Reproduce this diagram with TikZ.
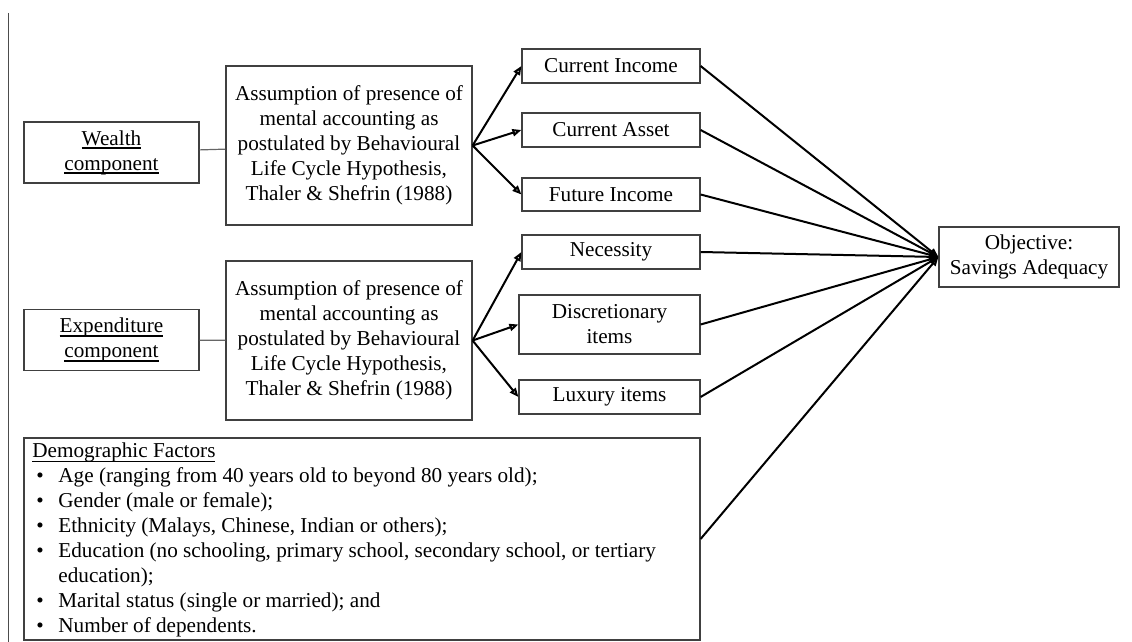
\documentclass[tikz,border=0pt]{standalone}
\usepackage{fontspec}
\setmainfont{Liberation Serif}
\usetikzlibrary{arrows.meta}
\newcommand\myul[2][0.5pt]{\leavevmode\setbox0=\hbox{#2}\rlap{\rule[-2pt]{\wd0}{#1}}\box0}
\begin{document}
\begin{tikzpicture}[x=0.5pt,y=-0.5pt,
  every node/.style={font=\fontsize{10.6}{12.5}\selectfont},
  box/.style={draw=black!75,line width=0.6pt,inner sep=0pt,align=center},
  conn/.style={line width=1pt,-{Triangle[open,length=4.5pt,width=3.6pt]}},
  link/.style={draw=black!60,line width=0.6pt}]
\useasboundingbox (0,0) rectangle (1132,642);
\draw[black!70,line width=0.5pt] (8,13) -- (8,642);
% left boxes
\node[box,minimum width=175*0.5pt,minimum height=61*0.5pt] (wealth) at (111.5,152.5) {\myul[0.9pt]{Wealth}\\\myul[0.9pt]{component}};
\node[box,minimum width=175*0.5pt,minimum height=61*0.5pt] (expend) at (111.5,340) {\myul[0.9pt]{Expenditure}\\\myul[0.9pt]{component}};
% assumption boxes
\node[box,minimum width=246*0.5pt,minimum height=159*0.5pt] (a1) at (349,145.5) {Assumption of presence of\\mental accounting as\\postulated by Behavioural\\Life Cycle Hypothesis,\\Thaler \& Shefrin (1988)};
\node[box,minimum width=246*0.5pt,minimum height=159*0.5pt] (a2) at (349,340.5) {Assumption of presence of\\mental accounting as\\postulated by Behavioural\\Life Cycle Hypothesis,\\Thaler \& Shefrin (1988)};
% middle boxes
\node[box,minimum width=178*0.5pt,minimum height=34*0.5pt] (ci) at (611,66) {Current Income};
\node[box,minimum width=178*0.5pt,minimum height=34*0.5pt] (ca) at (611,130) {Current Asset};
\node[box,minimum width=178*0.5pt,minimum height=33*0.5pt] (fi) at (611,194.5) {Future Income};
\node[box,minimum width=178*0.5pt,minimum height=34*0.5pt] (nec) at (611,252) {Necessity};
\node[box,minimum width=181*0.5pt,minimum height=59*0.5pt] (disc) at (609.5,324.5) {Discretionary\\items};
\node[box,minimum width=181*0.5pt,minimum height=34*0.5pt] (lux) at (609.5,397) {Luxury items};
% objective
\node[box,minimum width=180*0.5pt,minimum height=60*0.5pt] (obj) at (1029,257) {Objective:\\Savings Adequacy};
% demographic box
\node[box,minimum width=676*0.5pt,minimum height=202*0.5pt] (demo) at (362,539) {};
\node[anchor=north west,inner sep=0pt] (demotext) at (32,440) {%
\begin{tabular}{@{}l@{}l@{}}
\multicolumn{2}{@{}l}{\myul{Demographic Factors}}\\
\makebox[13pt][l]{\hspace*{2pt}\textbullet} & Age (ranging from 40 years old to beyond 80 years old);\\
\makebox[13pt][l]{\hspace*{2pt}\textbullet} & Gender (male or female);\\
\makebox[13pt][l]{\hspace*{2pt}\textbullet} & Ethnicity (Malays, Chinese, Indian or others);\\
\makebox[13pt][l]{\hspace*{2pt}\textbullet} & Education (no schooling, primary school, secondary school, or tertiary\\
 & education);\\
\makebox[13pt][l]{\hspace*{2pt}\textbullet} & Marital status (single or married); and\\
\makebox[13pt][l]{\hspace*{2pt}\textbullet} & Number of dependents.
\end{tabular}};
% links
\draw[link] (wealth) -- (a1);
\draw[link] (expend) -- (a2);
% fans
\draw[conn] (a1.east) -- (ci.west);
\draw[conn] (a1.east) -- (ca.west);
\draw[conn] (a1.east) -- (fi.west);
\draw[conn] (a2.east) -- (nec.west);
\draw[conn] (a2.east) -- (disc.west);
\draw[conn] (a2.east) -- (lux.west);
% to objective
\foreach \n in {ci,ca,fi,nec,disc,lux,demo}
  \draw[conn] (\n.east) -- (obj.west);
\end{tikzpicture}
\end{document}
